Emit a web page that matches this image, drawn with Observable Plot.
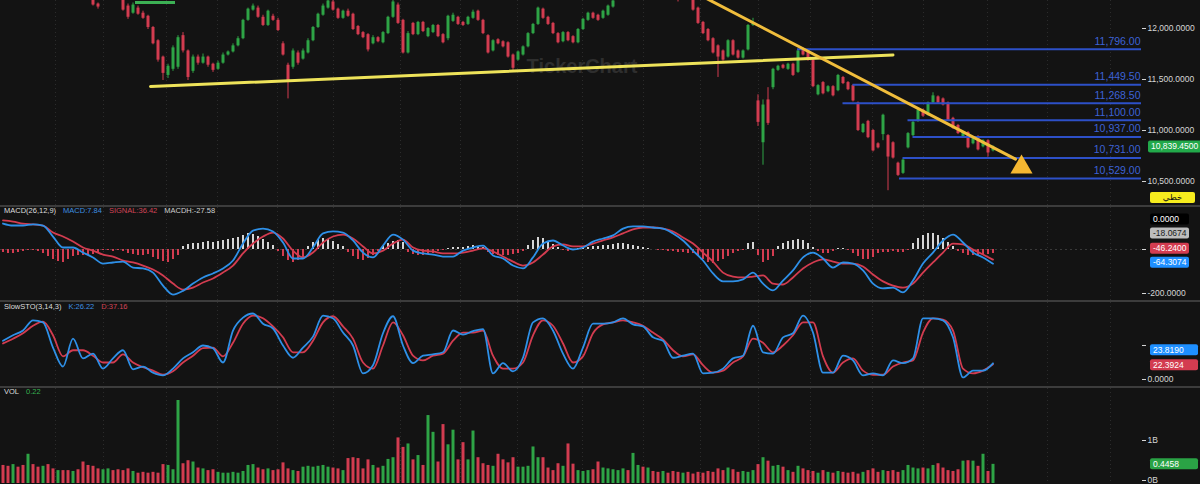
<!DOCTYPE html>
<html><head><meta charset="utf-8">
<script src="https://cdn.jsdelivr.net/npm/d3@7"></script>
<script src="https://cdn.jsdelivr.net/npm/@observablehq/plot@0.6"></script>
<style>
html,body{margin:0;padding:0;background:#131313;}
#wrap{position:relative;width:1200px;height:484px;overflow:hidden;background:#131313;font-family:"Liberation Sans",Arial,"DejaVu Sans",sans-serif;}
#wrap svg{display:block;}
#wrap svg.sep{border-top:2px solid #3c3c3c;}
.hdr{position:absolute;left:4px;font-size:7.5px;line-height:10px;white-space:nowrap;color:#dedede;}
.hdr span{margin-left:7px}
</style></head><body><div id="wrap"></div>
<script>
// ---------- data ----------
const open = [12620,12600,12580,12610,12570,12540,12560,12520,12490,12510,
12470,12450,12470,12430,12400,12420,12380,12360,12300,12240,
12290,12320,12350,12330,12290,12220,12150,12200,12150,12120,
12010,11880,11720,11540,11600,11620,11930,11780,11580,11720,
11660,11720,11650,11600,11660,11740,11770,11830,11900,12080,
12180,12200,12110,12030,12120,12080,11850,11640,11620,11760,
11700,11760,11880,12010,12130,12200,12260,12190,12100,12170,
12140,12020,11960,11940,11850,11910,11860,11950,12110,12230,
12080,11760,12050,11940,12060,11920,11960,12030,11940,11900,
12070,12110,12060,12040,12100,12170,12080,11930,11780,11890,
11870,11860,11740,11690,11740,11820,11950,12040,12190,12110,
12050,11950,11870,11960,11920,11860,11990,12080,12150,12130,
12100,12130,12210,12290,12340,12380,12360,12410,12440,12420,
12460,12430,12400,12420,12380,12350,12320,12340,12290,12200,
12060,11990,11900,11830,11780,11720,11880,11780,11710,11790,
12030,11290,10880,11300,11420,11590,11640,11600,11650,11570,
11800,11780,11690,11350,11470,11380,11430,11390,11520,11470,
11440,11270,10980,11090,11000,10870,10960,10950,10880,10680,
10580,10830,10950,11090,11200,11150,11270,11330,11310,11270,
11120,11050,10940,10980,10870,10940,10840,10900,10800];
const high = [12640,12620,12630,12630,12590,12580,12580,12540,12530,12530,
12490,12490,12490,12450,12440,12440,12400,12380,12320,12250,
12340,12370,12370,12350,12310,12240,12250,12220,12170,12130,
12020,11890,11730,11650,11830,11930,11960,11790,11740,11740,
11750,11730,11660,11680,11760,11780,11850,11920,12090,12200,
12240,12220,12130,12180,12140,12100,11870,11660,11800,11780,
11800,11900,12020,12150,12240,12290,12280,12200,12180,12190,
12150,12030,11970,11950,11930,11920,11970,12120,12280,12250,
12090,11970,12060,12070,12070,12010,12040,12040,11950,12130,
12150,12120,12070,12120,12180,12180,12090,11940,11890,11900,
11880,11870,11750,11780,11830,11960,12050,12210,12200,12120,
12060,11960,11970,11970,11930,12000,12100,12160,12160,12140,
12180,12230,12280,12350,12400,12400,12430,12460,12460,12480,
12480,12450,12440,12440,12400,12370,12360,12360,12310,12210,
12070,12000,11910,11840,11790,11890,11890,11790,11790,12040,
12100,11350,11300,11420,11610,11640,11650,11660,11660,11790,
11810,11790,11700,11450,11480,11440,11440,11550,11530,11480,
11450,11280,11070,11100,11010,10880,11160,10960,10890,10690,
10720,10980,11090,11210,11210,11280,11370,11340,11320,11280,
11130,11060,10990,10990,10940,10950,10910,10910,10850];
const low = [12580,12560,12560,12550,12520,12520,12500,12470,12470,12450,
12430,12430,12410,12380,12380,12360,12340,12320,12220,12190,
12290,12300,12310,12290,12170,12090,12140,12130,12090,11990,
11840,11670,11490,11510,11580,11600,11760,11490,11560,11640,
11650,11620,11570,11590,11650,11730,11760,11820,11890,12070,
12170,12100,12020,12020,12070,11970,11730,11310,11600,11640,
11690,11750,11870,12000,12120,12190,12170,12090,12090,12110,
11980,11930,11900,11770,11840,11860,11850,11940,12100,12040,
11750,11750,11930,11930,11960,11910,11950,11910,11850,11880,
12060,12030,12020,12030,12090,12070,11940,11750,11770,11840,
11810,11710,11590,11680,11730,11810,11940,12030,12090,12030,
11940,11850,11860,11870,11850,11850,11980,12070,12090,12070,
12090,12120,12200,12285,12320,12340,12340,12390,12400,12400,
12410,12380,12380,12360,12330,12260,12300,12290,12170,12040,
11940,11870,11750,11520,11680,11710,11730,11700,11700,11780,
12020,11040,10660,11050,11400,11580,11600,11590,11530,11560,
11730,11680,11420,11340,11350,11370,11330,11380,11450,11390,
11280,10990,10970,10920,10790,10820,10900,10410,10720,10550,
10570,10820,10940,11080,11130,11140,11260,11260,11240,11090,
11010,10960,10930,10820,10860,10800,10830,10740,10790];
const close = [12600,12580,12610,12570,12540,12560,12520,12490,12510,12470,
12450,12470,12430,12400,12420,12380,12360,12340,12230,12210,
12320,12350,12330,12310,12180,12110,12230,12140,12100,12010,
11850,11690,11560,11630,11810,11910,11780,11520,11720,11660,
11720,11640,11590,11660,11740,11770,11830,11900,12080,12190,
12220,12110,12030,12170,12080,11980,11740,11490,11780,11660,
11780,11880,12010,12140,12220,12270,12180,12100,12170,12120,
11990,11940,11910,11790,11910,11870,11960,12110,12260,12050,
11760,11950,11940,12060,11970,12000,12030,11920,11860,12120,
12130,12040,12030,12110,12160,12080,11950,11760,11880,11850,
11820,11720,11610,11770,11820,11950,12040,12200,12100,12040,
11950,11860,11960,11880,11860,11990,12090,12150,12100,12080,
12170,12220,12270,12340,12380,12360,12410,12440,12420,12460,
12430,12400,12420,12380,12350,12320,12340,12310,12180,12050,
11950,11880,11760,11720,11690,11880,11740,11710,11780,12030,
12050,11080,11250,11070,11600,11630,11610,11650,11540,11780,
11740,11690,11430,11440,11360,11430,11340,11540,11460,11400,
11290,11000,11060,10930,10800,10830,11150,10740,10730,10560,
10710,10970,11080,11200,11140,11270,11340,11270,11250,11100,
11020,10970,10980,10830,10930,10810,10900,10780,10839.45];
const volume = [0.42,0.40,0.44,0.38,0.42,0.68,0.44,0.38,0.40,0.44,
0.34,0.30,0.30,0.30,0.28,0.32,0.50,0.42,0.40,0.34,
0.32,0.34,0.30,0.32,0.30,0.34,0.28,0.24,0.26,0.24,
0.26,0.24,0.44,0.42,0.32,1.93,0.46,0.53,0.50,0.36,
0.34,0.30,0.32,0.26,0.24,0.24,0.26,0.24,0.28,0.42,
0.44,0.36,0.32,0.34,0.30,0.32,0.48,0.34,0.30,0.28,
0.38,0.40,0.38,0.40,0.42,0.38,0.36,0.34,0.30,0.58,
0.60,0.58,0.34,0.55,0.42,0.36,0.40,0.56,0.60,1.06,
0.84,0.92,0.55,0.65,0.42,1.58,1.19,0.50,1.37,0.90,
1.24,0.55,0.95,0.55,1.22,0.60,0.46,0.42,0.40,0.68,
0.55,0.48,0.60,0.38,0.38,0.40,0.85,0.60,0.60,0.36,
0.30,0.46,0.40,0.92,0.45,0.30,0.28,0.30,0.32,0.50,
0.36,0.34,0.32,0.30,0.34,0.30,0.70,0.42,0.38,0.36,
0.28,0.26,0.28,0.24,0.28,0.26,0.24,0.26,0.22,0.26,
0.24,0.28,0.26,0.34,0.30,0.36,0.32,0.26,0.28,0.26,
0.30,0.44,0.60,0.52,0.40,0.42,0.38,0.30,0.26,0.40,
0.34,0.30,0.28,0.24,0.30,0.26,0.24,0.28,0.26,0.24,
0.26,0.22,0.26,0.30,0.34,0.26,0.30,0.28,0.30,0.26,
0.30,0.42,0.36,0.34,0.36,0.34,0.42,0.46,0.36,0.30,
0.28,0.32,0.52,0.53,0.52,0.40,0.68,0.28,0.4458];
const macdHist = [-14,-18,-18,-14,-9,-5,-5,-9,-18,-32,
-45,-55,-59,-45,-32,-27,-27,-27,-23,-18,
-5,-5,-9,-5,-9,-18,-23,-27,-27,-23,
-36,-45,-55,-59,-45,-27,14,23,27,27,
32,36,32,36,41,45,50,55,64,73,
68,59,45,32,18,-9,-32,-50,-59,-50,
-36,14,32,45,50,45,36,23,14,-14,
-32,-45,-50,-41,-27,-9,14,27,36,41,
32,-14,-23,-27,-27,-23,-18,-9,-5,5,
9,9,9,14,18,14,9,-14,-23,-27,
-27,-27,-23,-18,-9,18,41,55,50,36,
23,9,-5,-9,-5,5,9,9,14,14,
18,18,23,27,27,23,18,14,9,5,
0,-5,-5,-9,-9,-14,-14,-18,-18,-32,
-45,-59,-64,-55,-45,-32,-18,-9,-5,27,
32,-27,-59,-50,-32,14,27,36,41,45,
41,27,9,-9,-18,-18,-9,5,5,-5,
-18,-32,-45,-45,-36,-18,-14,-14,-9,-14,
-14,-5,27,50,64,73,73,64,50,32,
14,-9,-18,-27,-27,-27,-23,-23,-18.07];
// lines sampled every 2 candles
const macdLine = [118,109,109,114,109,59,9,9,-14,-36,-64,-59,-55,-82,-86,-105,-164,-205,-188,-155,
-127,-109,-86,-50,27,86,95,82,32,-41,-41,9,73,82,77,41,-14,-36,18,68,45,
-5,-18,-23,-32,-32,-5,9,18,-27,-41,-73,-86,-36,27,41,18,0,9,36,50,64,95,105,105,100,95,73,41,-5,-50,
-109,-145,-145,-136,-105,-155,-186,-141,-95,-36,
-14,-41,-82,-59,-64,-95,-155,-177,-173,-195,-141,-64,-14,41,68,32,-14,-36,-64.31];
const signalLine = [132,127,118,114,109,77,59,36,9,-5,-23,-32,-50,-59,-73,-91,-118,-155,-182,-173,
-150,-132,-105,-73,-18,27,59,77,50,-5,-36,-14,32,59,68,50,14,-18,-5,27,45,
9,-5,-9,-18,-18,-14,-5,5,-9,-32,-55,-73,-59,-23,14,23,14,14,27,41,55,73,91,100,100,95,82,55,27,-14,
-55,-105,-123,-127,-123,-118,-155,-159,-127,-86,
-59,-45,-55,-64,-64,-77,-114,-145,-164,-173,-155,-105,-59,-14,27,23,0,-23,-46.24];
const stochK = [57,65,72,87,84,47,19,60,31,38,16,31,43,15,19,10,6,16,31,40,50,46,25,72,91,97,82,75,50,32,47,63,94,90,69,50,9,21,68,93,50,
24,35,37,40,72,66,71,74,9,24,12,32,84,90,72,38,16,47,82,82,84,90,81,78,62,57,32,35,38,9,10,16,31,35,79,40,38,62,68,94,
69,10,10,35,28,6,9,6,28,24,31,90,90,87,62,3,13,13,23.82];
const stochD = [53,60,68,79,85,65,34,43,43,35,25,25,37,25,18,13,7,12,25,35,46,47,34,54,82,94,90,78,62,40,40,57,84,93,78,60,25,16,50,84,65,
35,28,35,38,57,69,69,72,35,16,16,25,65,87,79,53,25,34,68,81,84,87,84,79,69,59,43,34,37,21,10,13,25,34,60,54,40,50,65,84,
84,34,10,25,31,13,7,7,19,25,28,69,90,88,72,16,9,13,22.39];
const levels = [11796, 11449.5, 11268.5, 11100, 10937, 10731, 10529];
const levelStart = [158.9, 170, 168, 181, 182, 180, 179.3];
const supportLine = [[29.5, 11431], [178, 11740]];
const trendLine = [[138, 12363], [202.5, 10720]];
const arrowHead = [[203.7, 10641]];
const topMark = [[26.5, 34.5, 12255]];
const gridIdx = [10.5, 20.1, 32.7, 42.9, 54.9, 66.1, 79.5, 91.5, 102.9, 115.9, 128.1, 139.5, 151.1, 161.5, 173.9, 184.1, 196.9, 208.9, 221.5];
const priceTicks = [12000, 11500, 11000, 10500];
const macdTicks = [0, -200];
const stochTicks = [0, 50];
const volTicks = [1];
const volBaseTick = [0];

// ---------- build ----------
const GREEN = "#2ea446", RED = "#d33c50", BLUE = "#2e90e8", LEVEL = "#2d50c8";
const FONT = '"Liberation Sans", Arial, "DejaVu Sans", sans-serif';
const lineStep = 2;
const candles = close.map((c, i) => ({i, o: open[i], h: high[i], l: low[i], c, v: volume[i], up: c >= open[i]}));
const histRows = macdHist.map((h, i) => ({i, h}));
const macdRows = macdLine.map((m, k) => ({i: k * lineStep, m, s: signalLine[k]}));
const stochRows = stochK.map((K, k) => ({i: k * lineStep, K, D: stochD[k]}));
const levelRows = levels.map((p, k) => ({p, s: levelStart[k]}));
const XD = [-0.5, 227.7];
const col = d => d.up ? GREEN : RED;

const base = h => ({
  width: 1200, height: h, marginLeft: 0, marginRight: 59, marginTop: 0, marginBottom: 0,
  x: {domain: XD, axis: null},
  style: {background: "#131313", color: "#d6d6d6", fontFamily: FONT, fontSize: "8.5px", overflow: "hidden"}
});
const grid = () => Plot.ruleX(gridIdx, {stroke: "#2c2c2c", strokeDasharray: "1,3"});
const axis = (ticks, fmt, extra = {}) => Plot.axisY({ticks, anchor: "right", tickSize: 4, tickPadding: 2, label: null, tickFormat: fmt, ...extra});

const price = Plot.plot({...base(205),
  y: {domain: [10265, 12274.5], axis: null},
  marks: [
    grid(),
    Plot.text(["TickerChart"], {frameAnchor: "top", dx: 11, dy: 58, fill: "#2e2e2e", fontSize: 20, fontWeight: "bold"}),
    Plot.ruleX(candles, {x: "i", y1: "l", y2: "h", stroke: col, strokeWidth: 1, clip: true}),
    Plot.ruleX(candles, {x: "i", y1: "o", y2: "c", stroke: col, strokeWidth: 3, clip: true}),
    Plot.ruleY(levelRows, {y: "p", x1: "s", x2: XD[1], stroke: LEVEL, strokeWidth: 2}),
    Plot.text(levelRows, {x: XD[1], y: "p", text: d => d3.format(",.2f")(d.p), textAnchor: "end", dx: -1, dy: -8, fill: "#3d62d6", fontSize: 10.5}),
    Plot.line(supportLine, {x: d => d[0], y: d => d[1], stroke: "#eee35a", strokeWidth: 3, clip: true}),
    Plot.line(trendLine, {x: d => d[0], y: d => d[1], stroke: "#f0bd3c", strokeWidth: 3, clip: true}),
    Plot.dot(arrowHead, {x: d => d[0], y: d => d[1], symbol: "triangle", r: 8.2, fill: "#f5b731"}),
    Plot.ruleY(topMark, {x1: d => d[0], x2: d => d[1], y: d => d[2], stroke: "#3cb054", strokeWidth: 3}),
    axis(priceTicks, d3.format(",.4f"))
  ]
});

const macd = Plot.plot({...base(93),
  y: {domain: [-231.8, 190.9], axis: null},
  marks: [
    grid(),
    Plot.ruleY([0], {stroke: "#3a3a3a", strokeDasharray: "2,3"}),
    Plot.ruleX(histRows, {x: "i", y1: 0, y2: "h", stroke: d => d.h >= 0 ? "#d6d6d6" : RED, strokeWidth: 2}),
    Plot.line(macdRows, {x: "i", y: "s", stroke: RED, strokeWidth: 1.8, curve: "monotone-x"}),
    Plot.line(macdRows, {x: "i", y: "m", stroke: BLUE, strokeWidth: 1.8, curve: "monotone-x"}),
    axis(macdTicks, d => d === 0 ? "" : d.toFixed(4))
  ]
});

const sto = Plot.plot({...base(84),
  y: {domain: [-10.3, 113.2], axis: null},
  marks: [
    grid(),
    Plot.line(stochRows, {x: "i", y: "D", stroke: RED, strokeWidth: 1.8, curve: "monotone-x"}),
    Plot.line(stochRows, {x: "i", y: "K", stroke: BLUE, strokeWidth: 1.8, curve: "monotone-x"}),
    axis(stochTicks, d => d === 0 ? d.toFixed(4) : "")
  ]
});

const vol = Plot.plot({...base(96),
  y: {domain: [-0.023, 2.209], axis: null},
  marks: [
    grid(),
    Plot.ruleX(candles, {x: "i", y1: 0, y2: "v", stroke: col, strokeWidth: 3}),
    axis(volTicks, d => d + "B"),
    axis(volBaseTick, d => d + "B", {dy: -3})
  ]
});

const wrap = document.getElementById("wrap");
wrap.append(price);
for (const c of [macd, sto, vol]) { c.classList.add("sep"); wrap.append(c); }

function tag(chart, value, label, bg, fg, o = {}) {
  const sy = chart.scale("y"), sx = chart.scale("x");
  const y = (o.py !== undefined ? o.py : sy.apply(value)) + (o.dy || 0);
  const x0 = sx.range[1] + (o.dx !== undefined ? o.dx : 9);
  const w = o.w || 39, h = o.h || 11;
  const s = d3.select(chart);
  s.append("rect").attr("x", x0).attr("y", y - h / 2).attr("width", w).attr("height", h).attr("rx", 2).attr("fill", bg);
  s.append("text").attr("x", o.center ? x0 + w / 2 : x0 + 3).attr("y", y).attr("dy", "0.35em")
    .attr("text-anchor", o.center ? "middle" : "start").attr("fill", fg).attr("font-size", 8.5)
    .attr("font-family", FONT).text(label);
}
tag(price, close[close.length - 1], d3.format(",.4f")(close[close.length - 1]), "#22a94a", "#ffffff", {dx: 7, w: 53, h: 12});
tag(price, null, "خطي", "#f6ec1e", "#111111", {py: price.scale("y").range[0] - 7.5, w: 45, h: 11, center: true});
tag(macd, 0, "0.0000", "#000000", "#ffffff", {dy: -30});
tag(macd, macdHist[macdHist.length - 1], (-18.0674).toFixed(4), "#bdbdbd", "#1a1a1a", {dy: -20});
tag(macd, signalLine[signalLine.length - 1], (-46.24).toFixed(4), RED, "#ffffff", {dy: -11});
tag(macd, macdLine[macdLine.length - 1], (-64.3074).toFixed(4), "#1e8fff", "#ffffff", {dy: -1});
tag(sto, stochK[stochK.length - 1], (23.819).toFixed(4), "#1e8fff", "#ffffff", {dy: -13, w: 48});
tag(sto, stochD[stochD.length - 1], (22.3924).toFixed(4), RED, "#ffffff", {dy: 1, w: 48});
tag(vol, volume[volume.length - 1], volume[volume.length - 1].toFixed(4), "#2aa345", "#ffffff", {w: 48});

// panel headers
const headers = [
  {top: 206, parts: [["MACD(26,12,9)", "#dedede"], ["MACD:7.84", "#3d8fe0"], ["SIGNAL:36.42", "#d24457"], ["MACDH:-27.58", "#cfcfcf"]]},
  {top: 302, parts: [["SlowSTO(3,14,3)", "#dedede"], ["K:26.22", "#3d8fe0"], ["D:37.16", "#d24457"]]},
  {top: 387, parts: [["VOL", "#dedede"], ["0.22", "#35b04f"]]}
];
for (const h of headers) {
  const d = document.createElement("div");
  d.className = "hdr"; d.style.top = h.top + "px";
  h.parts.forEach(([t, c], k) => {
    const s = document.createElement("span");
    s.textContent = t; s.style.color = c;
    if (k === 0) s.style.marginLeft = "0";
    d.append(s);
  });
  wrap.append(d);
}
</script></body></html>
